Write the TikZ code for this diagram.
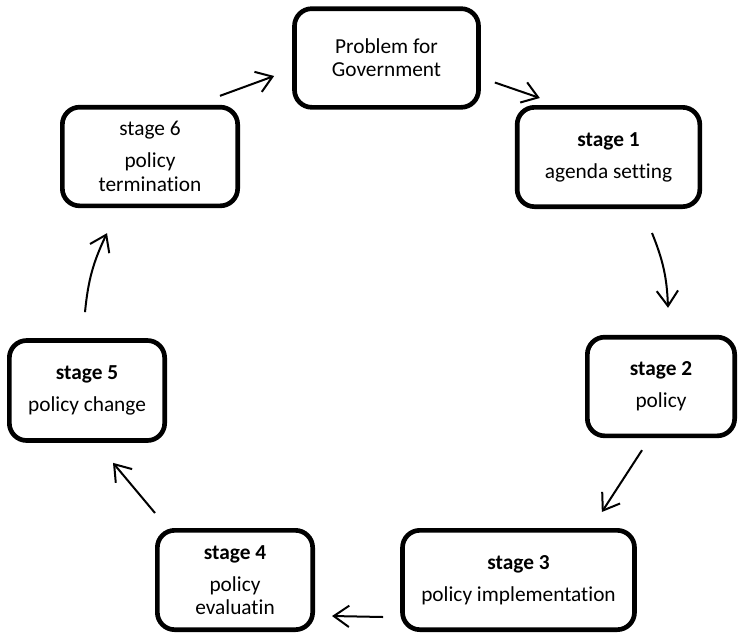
\documentclass[tikz,border=0pt]{standalone}
\usepackage{fontspec}
\setmainfont{Carlito}[Ligatures=NoCommon]
\usetikzlibrary{arrows.meta}
\begin{document}
\begin{tikzpicture}[x=.75pt,y=-.75pt,
    box/.style={draw,line width=3.5pt,rounded corners=13pt,align=center,inner sep=2pt,
                font=\fontsize{16}{17.5}\selectfont},
    arw/.style={line width=1.5pt,-{Straight Barb[length=11.5pt,width=16pt,line width=1.5pt]}}]
  \useasboundingbox (0,0) rectangle (738,636);
  \node[box,minimum width=138pt,minimum height=74pt] (prob) at (386.5,58) {Problem for\\Government};
  \node[box,minimum width=137pt,minimum height=74.5pt] (s1) at (608.5,157) {\textbf{stage 1}\\[6.5pt]agenda setting};
  \node[box,minimum width=110.5pt,minimum height=74pt] (s2) at (661,386.5) {\textbf{stage 2}\\[6.5pt]policy};
  \node[box,minimum width=174pt,minimum height=74.5pt] (s3) at (518.5,580) {\textbf{stage 3}\\[6.5pt]policy implementation};
  \node[box,minimum width=116.5pt,minimum height=74.5pt] (s4) at (235,580) {\textbf{stage 4}\\[6.5pt]policy\\evaluatin};
  \node[box,minimum width=116.5pt,minimum height=75pt] (s5) at (87,390.5) {\textbf{stage 5}\\[6.5pt]policy change};
  \node[box,minimum width=131.5pt,minimum height=74pt] (s6) at (150,156.5) {stage 6\\[6.5pt]policy\\termination};
  % arrows round the cycle
  \draw[arw] ([shift={(14,24.5)}]prob.east) -- ([shift={(25,-7)}]s1.north west);
  \draw[arw] ([shift={(43.5,24)}]s1.south) to[bend left=10] ([shift={(7,-27)}]s2.north);
  \draw[arw] ([shift={(-19,12)}]s2.south) -- ([shift={(-35,-16)}]s3.north east);
  \draw[arw] ([shift={(-17,37)}]s3.west) -- ([shift={(17,36)}]s4.east);
  \draw[arw] ([shift={(0,-15)}]s4.north west) -- ([shift={(26,20)}]s5.south);
  \draw[arw] ([shift={(-2,-26)}]s5.north) to[bend left=10] ([shift={(-43,25)}]s6.south);
  \draw[arw] ([shift={(-20,-9)}]s6.north east) -- ([shift={(-18,18)}]prob.west);
\end{tikzpicture}
\end{document}
